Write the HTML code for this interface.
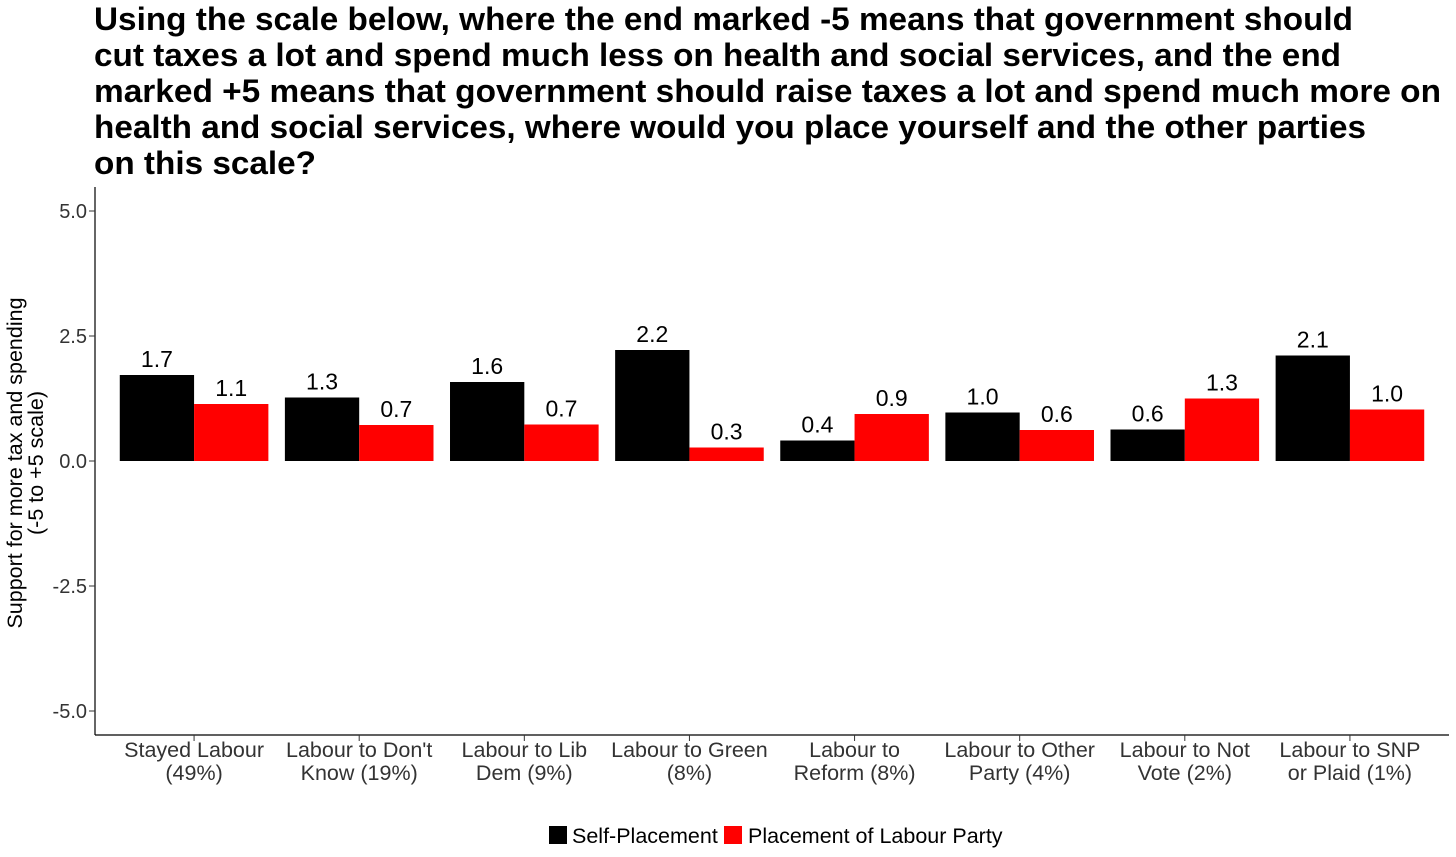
<!DOCTYPE html>
<html><head><meta charset="utf-8"><style>
body{margin:0;background:#fff;}
svg{display:block;font-family:"Liberation Sans",Arial,sans-serif;}
</style></head><body>
<svg id="chart" width="1456" height="857">
<g font-weight="bold" font-size="32" fill="#000" lengthAdjust="spacingAndGlyphs">
<text x="94" y="30" textLength="1259" lengthAdjust="spacingAndGlyphs">Using the scale below, where the end marked -5 means that government should</text>
<text x="94" y="66" textLength="1247" lengthAdjust="spacingAndGlyphs">cut taxes a lot and spend much less on health and social services, and the end</text>
<text x="94" y="102" textLength="1347" lengthAdjust="spacingAndGlyphs">marked +5 means that government should raise taxes a lot and spend much more on</text>
<text x="94" y="138" textLength="1272" lengthAdjust="spacingAndGlyphs">health and social services, where would you place yourself and the other parties</text>
<text x="94" y="174" textLength="222" lengthAdjust="spacingAndGlyphs">on this scale?</text>
</g>
<g font-size="21.5" text-anchor="middle" transform="translate(22,463) rotate(-90)">
<text x="0" y="0">Support for more tax and spending</text>
<text x="0" y="21">(-5 to +5 scale)</text>
</g>
<g id="plot"></g>
<g font-size="21.5">
<rect x="549" y="826" width="18" height="18" fill="#000"/>
<text x="572" y="843">Self-Placement</text>
<rect x="724" y="826" width="18" height="18" fill="#ff0000"/>
<text x="748" y="843">Placement of Labour Party</text>
</g>
</svg>
<script>
const categories=[["Stayed Labour","(49%)"],["Labour to Don't","Know (19%)"],["Labour to Lib","Dem (9%)"],["Labour to Green","(8%)"],["Labour to","Reform (8%)"],["Labour to Other","Party (4%)"],["Labour to Not","Vote (2%)"],["Labour to SNP","or Plaid (1%)"]];
const selfValues=[1.72,1.27,1.58,2.22,0.41,0.97,0.63,2.11];
const labourValues=[1.14,0.72,0.73,0.27,0.94,0.62,1.25,1.03];
const yTicks=[5,2.5,0,-2.5,-5];
const yTickLabels=["5.0","2.5","0.0","-2.5","-5.0"];

const NS="http://www.w3.org/2000/svg";
const g=document.getElementById('plot');
const x0=95,x1=1449,yTop=187,yBot=735;
const y=v=>461-v*50;
const step=(x1-x0)/(categories.length+0.2);
const cx=i=>x0+step*(0.6+i);
const bw=step*0.45;
function mk(t,a){const e=document.createElementNS(NS,t);for(const k in a)e.setAttribute(k,a[k]);g.appendChild(e);return e;}
let ax=mk('line',{x1:x0,y1:yTop,x2:x0,y2:yBot,stroke:'#000','stroke-width':1.2});


let bx=mk('line',{x1:x0,y1:yBot,x2:x1,y2:yBot,stroke:'#000','stroke-width':1.2});


yTicks.forEach((v,i)=>{
 let t=mk('line',{x1:x0-6,x2:x0,y1:y(v),y2:y(v),stroke:'#333'});
 
 
 let l=mk('text',{x:x0-8,y:y(v)+7,'text-anchor':'end','font-size':20,fill:'#333'});
 l.textContent=yTickLabels[i];
 
 
});
categories.forEach((c,i)=>{
 const c0=cx(i);
 let t=mk('line',{x1:c0,x2:c0,y1:yBot,y2:yBot+6,stroke:'#333'});
 
 
 c.forEach((s,j)=>{
  let l=mk('text',{x:c0,y:757+j*23,'text-anchor':'middle','font-size':21.5,fill:'#333'});
  l.textContent=s;
  
  
 });
 [[selfValues[i],c0-bw,'#000','bar-self'],[labourValues[i],c0,'#ff0000','bar-labour']].forEach(([v,bxx,col,nm])=>{
  let r=mk('rect',{x:bxx,y:Math.min(y(v),y(0)),width:bw,height:Math.abs(y(v)-y(0)),fill:col});
  
  
  let l=mk('text',{x:bxx+bw/2,y:y(v)-8,'text-anchor':'middle','font-size':23,fill:'#000'});
  l.textContent=v.toFixed(1);
  
  
 });
});
</script>
</body></html>
